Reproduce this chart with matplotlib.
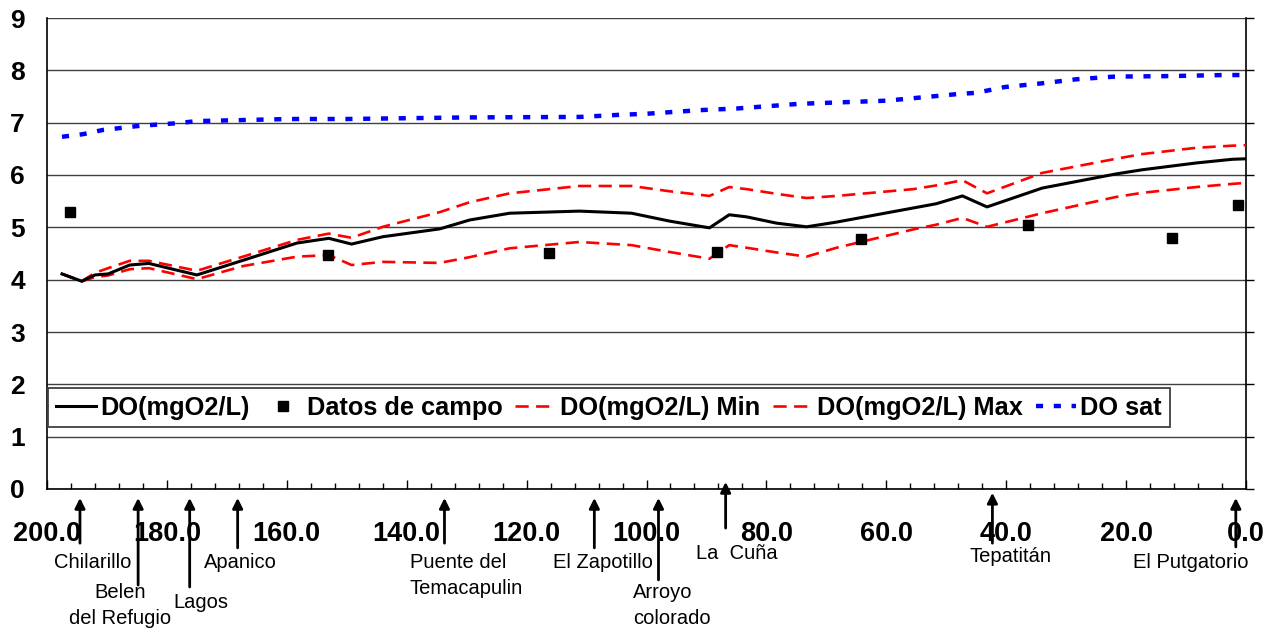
import numpy as np
import matplotlib
matplotlib.use("Agg")
import matplotlib.pyplot as plt
from matplotlib.ticker import FixedLocator, FormatStrFormatter
from matplotlib.transforms import blended_transform_factory

plt.rcParams['font.family'] = ['Liberation Sans', 'DejaVu Sans']

# model output (km from mouth, reversed axis)
km = [197.5, 194.2, 192.0, 189.8, 186.2, 183.0, 175.0, 167.3, 158.3, 153.0,
      149.2, 144.0, 134.5, 129.5, 122.8, 111.2, 102.5, 96.2, 89.5, 86.2,
      83.3, 78.3, 73.3, 68.3, 55.5, 51.7, 47.3, 43.2, 34.0, 21.7,
      17.3, 8.3, 2.3, 0.0]
do_mod = [4.11, 3.97, 4.09, 4.11, 4.28, 4.31, 4.09, 4.37, 4.70, 4.79,
          4.68, 4.82, 4.97, 5.14, 5.27, 5.31, 5.27, 5.12, 4.99, 5.24,
          5.20, 5.08, 5.01, 5.10, 5.37, 5.45, 5.60, 5.39, 5.75, 6.02,
          6.10, 6.23, 6.30, 6.31]
do_min = [4.11, 3.97, 4.05, 4.08, 4.20, 4.22, 4.01, 4.26, 4.44, 4.47,
          4.28, 4.34, 4.32, 4.43, 4.60, 4.72, 4.66, 4.53, 4.40, 4.66,
          4.61, 4.52, 4.44, 4.61, 4.96, 5.05, 5.18, 5.01, 5.27, 5.58,
          5.66, 5.77, 5.83, 5.85]
do_max = [4.11, 3.97, 4.13, 4.22, 4.36, 4.36, 4.17, 4.44, 4.76, 4.88,
          4.80, 5.01, 5.29, 5.48, 5.65, 5.79, 5.79, 5.69, 5.60, 5.77,
          5.73, 5.64, 5.56, 5.60, 5.73, 5.80, 5.90, 5.65, 6.04, 6.31,
          6.40, 6.52, 6.56, 6.57]

sat_km = [197.5, 194.0, 190.7, 184.5, 178.3, 175.0, 159.5, 150.0, 130.0, 111.0,
          104.5, 100.0, 91.0, 85.0, 74.5, 60.0, 47.8, 45.0, 40.3, 34.2,
          28.2, 22.0, 12.8, 3.7, 0.0]
do_sat = [6.73, 6.78, 6.86, 6.94, 6.99, 7.03, 7.07, 7.07, 7.10, 7.11,
          7.15, 7.17, 7.24, 7.27, 7.36, 7.42, 7.55, 7.57, 7.68, 7.75,
          7.83, 7.88, 7.89, 7.91, 7.91]

campo_km = [196.2, 153.2, 116.2, 88.3, 64.2, 36.3, 12.3, 1.3]
campo = [5.30, 4.47, 4.51, 4.52, 4.78, 5.04, 4.79, 5.43]

# stations marked under the axis
stations = ["Chilarillo", "Belen\ndel Refugio", "Lagos", "Apanico",
            "Puente del\nTemacapulin", "El Zapotillo", "Arroyo\ncolorado",
            "La  Cuña", "Tepatitán", "El Putgatorio"]
station_km = [194.5, 184.8, 176.2, 168.2, 133.7, 108.7, 98.0, 86.8, 42.3, 1.7]

# layout: (arrow tip y, arrow tail y, text x, text y, ha)  -- y in axes fraction
station_layout = [
    (-0.019, -0.115, 192.3, -0.157, 'center'),
    (-0.019, -0.204, 187.8, -0.247, 'center'),
    (-0.019, -0.208, 174.4, -0.240, 'center'),
    (-0.019, -0.125, 167.8, -0.157, 'center'),
    (-0.019, -0.115, 139.5, -0.184, 'left'),
    (-0.019, -0.125, 107.3, -0.157, 'center'),
    (-0.019, -0.193, 102.3, -0.247, 'left'),
    (0.015, -0.083, 85.0, -0.138, 'center'),
    (-0.008, -0.115, 39.2, -0.144, 'center'),
    (-0.019, -0.123, 9.2, -0.155, 'center'),
]

fig = plt.figure(figsize=(12.76, 6.32), dpi=100)
ax = fig.add_axes([47 / 1276, 1 - 489 / 632, 1199 / 1276, 471 / 632])

ax.plot(km, do_mod, color='black', lw=2.2, label='DO(mgO2/L)', zorder=4)
ax.plot(campo_km, campo, ls='none', marker='s', ms=7.5, color='black',
        label='Datos de campo', zorder=5)
ax.plot(km, do_min, color='#ff0000', lw=1.9, ls=(0, (5, 2.8)),
        label='DO(mgO2/L) Min', zorder=3)
ax.plot(km, do_max, color='#ff0000', lw=1.9, ls=(0, (5, 2.8)),
        label='DO(mgO2/L) Max', zorder=3)
ax.plot(sat_km, do_sat, color='#0000ff', lw=3.2, ls=(0, (1.6, 2.4)),
        label='DO sat', zorder=3)

ax.set_xlim(200, 0)
ax.set_ylim(0, 9)
ax.set_yticks(range(0, 10))
ax.xaxis.set_major_locator(FixedLocator(np.arange(0, 201, 20)))
ax.xaxis.set_minor_locator(FixedLocator(np.arange(0, 201, 4)))
ax.xaxis.set_major_formatter(FormatStrFormatter('%.1f'))

ax.yaxis.grid(True, color='#404040', lw=1)
ax.set_axisbelow(True)

for s in ['left', 'right', 'bottom']:
    ax.spines[s].set_color('black')
    ax.spines[s].set_linewidth(1.2)
ax.spines['top'].set_visible(False)

ax.tick_params(axis='y', left=False, right=True, labelleft=True, labelright=False,
               direction='out', length=6, width=1, pad=10, labelsize=19)
ax.tick_params(axis='x', which='major', direction='in', length=6.5, width=1,
               pad=23, labelsize=19.5)
ax.tick_params(axis='x', which='minor', direction='in', length=4, width=1)
for lab in ax.get_xticklabels() + ax.get_yticklabels():
    lab.set_fontweight('bold')

leg = ax.legend(loc='upper left', bbox_to_anchor=(0.001, 0.2144), ncol=5,
                borderaxespad=0, fancybox=False, framealpha=1,
                edgecolor='#404040', handlelength=1.6, handletextpad=0.15,
                columnspacing=0.5, borderpad=0.3,
                prop={'weight': 'bold', 'size': 18.3})
leg.get_frame().set_linewidth(1.3)

trans = blended_transform_factory(ax.transData, ax.transAxes)
for name, xk, (tip, tail, tx, ty, ha) in zip(stations, station_km, station_layout):
    ax.annotate('', xy=(xk, tip), xytext=(xk, tail), xycoords=trans,
                textcoords=trans, annotation_clip=False,
                arrowprops=dict(arrowstyle='-|>', color='black', lw=2,
                                mutation_scale=15, shrinkA=0, shrinkB=0))
    ax.text(tx, ty, name, transform=trans, ha=ha, va='center',
            multialignment=ha, fontsize=14.5, linespacing=1.45, clip_on=False)

fig.savefig('out.png', dpi=100)
